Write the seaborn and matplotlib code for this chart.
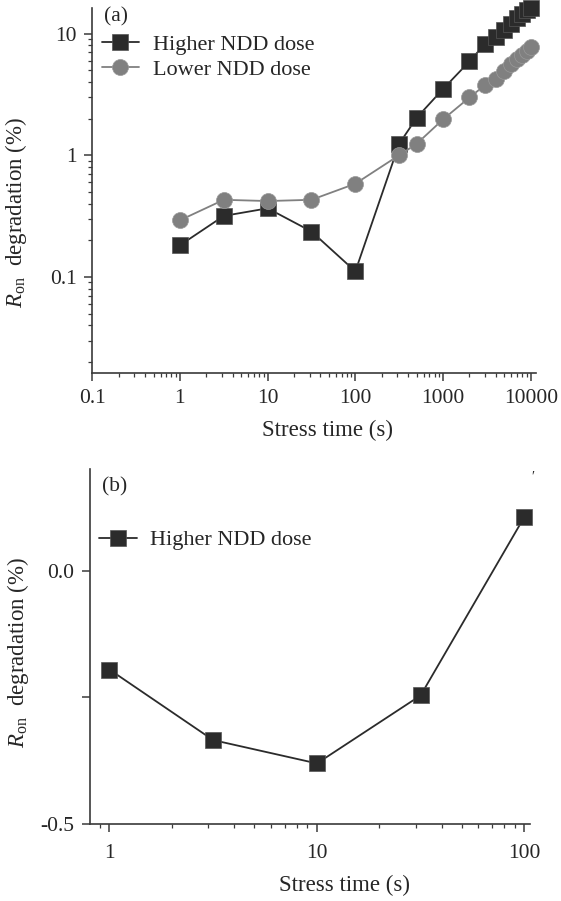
import matplotlib
matplotlib.use('Agg')
import matplotlib.pyplot as plt
import matplotlib.ticker as mticker
import seaborn as sns

# panel (a): stress time (s) vs Ron degradation (%), log-log
time_a = [1, 3.16, 10, 31.6, 100, 316, 500, 1000, 2000, 3000,
          4000, 5000, 6000, 7000, 8000, 9000, 10000]
ron_high = [0.182, 0.317, 0.366, 0.236, 0.111, 1.24, 2.03, 3.5, 5.9, 8.2,
            9.3, 10.6, 12.0, 13.3, 14.5, 15.5, 16.3]
ron_low = [0.292, 0.43, 0.42, 0.43, 0.583, 1.0, 1.24, 1.97, 2.98, 3.76,
           4.26, 4.93, 5.6, 6.12, 6.63, 7.2, 7.7]

# panel (b): higher dose only, linear y
time_b = [1, 3.16, 10, 31.6, 100]
ron_b = [-0.195, -0.334, -0.38, -0.246, 0.106]

xticks_a = [0.1, 1, 10, 100, 1000, 10000]
xlabels_a = ['0.1', '1', '10', '100', '1000', '10000']
yticks_a = [0.1, 1, 10]
ylabels_a = ['0.1', '1', '10']
xticks_b = [1, 10, 100]
xlabels_b = ['1', '10', '100']
yticks_b = [-0.5, -0.25, 0.0]
ylabels_b = ['-0.5', '', '0.0']

sns.set_style('ticks')
plt.rcParams['font.family'] = ['Liberation Serif', 'DejaVu Serif']
plt.rcParams['mathtext.fontset'] = 'custom'
plt.rcParams['mathtext.rm'] = 'Liberation Serif'
plt.rcParams['mathtext.it'] = 'Liberation Serif:italic'
plt.rcParams['axes.unicode_minus'] = False

dark = '#2b2b2b'
grey = '#808080'
spine_c = '#3a3a3a'
tick_fs = 15.5
label_fs = 16.5
leg_fs = 16
ylab = r'$R_{\mathrm{on}}$  degradation (%)'

fig = plt.figure(figsize=(5.61, 9.01), dpi=100)
ax1 = fig.add_axes([0.1645, 0.5863, 0.791, 0.4048])
ax2 = fig.add_axes([0.160, 0.0851, 0.785, 0.3943])

# ---- (a)
sns.lineplot(x=time_a, y=ron_high, ax=ax1, color=dark, lw=1.3, marker='s',
             markersize=11.5, markeredgecolor='#555555', markeredgewidth=0.5,
             label='Higher NDD dose', estimator=None, clip_on=False, zorder=3)
sns.lineplot(x=time_a, y=ron_low, ax=ax1, color=grey, lw=1.3, marker='o',
             markersize=11.5, markeredgecolor='#999999', markeredgewidth=0.5,
             label='Lower NDD dose', estimator=None, clip_on=False, zorder=4)
ax1.set_xscale('log')
ax1.set_yscale('log')
ax1.set_xlim(0.1, 11490)
ax1.set_ylim(0.0163, 16.2)
ax1.set_xticks(xticks_a)
ax1.set_xticklabels(xlabels_a)
ax1.set_yticks(yticks_a)
ax1.set_yticklabels(ylabels_a)
ax1.xaxis.set_minor_locator(mticker.LogLocator(base=10, subs=range(2, 10)))
ax1.yaxis.set_minor_locator(mticker.LogLocator(base=10, subs=range(2, 10)))
ax1.xaxis.set_minor_formatter(mticker.NullFormatter())
ax1.yaxis.set_minor_formatter(mticker.NullFormatter())
ax1.set_xlabel('Stress time (s)', fontsize=label_fs)
ax1.set_ylabel(ylab, fontsize=label_fs)
ax1.xaxis.set_label_coords(0.53, -0.130)
ax1.yaxis.set_label_coords(-0.143, 0.44)
ax1.text(0.026, 0.976, '(a)', transform=ax1.transAxes, fontsize=tick_fs,
         va='center', ha='left')
ax1.legend(loc='upper left', bbox_to_anchor=(0.021, 0.928), frameon=False,
           fontsize=leg_fs, handlelength=1.7, handletextpad=0.6,
           borderpad=0, borderaxespad=0, labelspacing=0.2, numpoints=1)

# ---- (b)
sns.lineplot(x=time_b, y=ron_b, ax=ax2, color=dark, lw=1.3, marker='s',
             markersize=11.5, markeredgecolor='#555555', markeredgewidth=0.5,
             label='Higher NDD dose', estimator=None, clip_on=False, zorder=3)
ax2.set_xscale('log')
ax2.set_xlim(0.804, 106.5)
ax2.set_ylim(-0.5, 0.2)
ax2.set_xticks(xticks_b)
ax2.set_xticklabels(xlabels_b)
ax2.set_yticks(yticks_b)
ax2.set_yticklabels(ylabels_b)
ax2.xaxis.set_minor_locator(mticker.LogLocator(base=10, subs=range(2, 10)))
ax2.xaxis.set_minor_formatter(mticker.NullFormatter())
ax2.set_xlabel('Stress time (s)', fontsize=label_fs)
ax2.set_ylabel(ylab, fontsize=label_fs)
ax2.xaxis.set_label_coords(0.578, -0.143)
ax2.yaxis.set_label_coords(-0.133, 0.485)
ax2.text(0.028, 0.949, '(b)', transform=ax2.transAxes, fontsize=tick_fs,
         va='center', ha='left')
ax2.text(1.007, 0.977, '\u2032', transform=ax2.transAxes, fontsize=10,
         va='center', ha='center')
ax2.legend(loc='upper left', bbox_to_anchor=(0.021, 0.829), frameon=False,
           fontsize=leg_fs, handlelength=1.7, handletextpad=0.6,
           borderpad=0, borderaxespad=0, numpoints=1)

for ax, pad in ((ax1, 6), (ax2, 8)):
    sns.despine(ax=ax)
    for s in ('left', 'bottom'):
        ax.spines[s].set_color(spine_c)
        ax.spines[s].set_linewidth(1.2)
    ax.tick_params(which='major', direction='out', length=6, width=1.1,
                   color=spine_c, labelsize=tick_fs, pad=pad)
    ax.tick_params(which='minor', direction='out', length=3, width=0.9,
                   color=spine_c)
    ax.tick_params(axis='y', which='major', pad=5)
    ax.grid(False)

fig.savefig('out.png', dpi=100)
